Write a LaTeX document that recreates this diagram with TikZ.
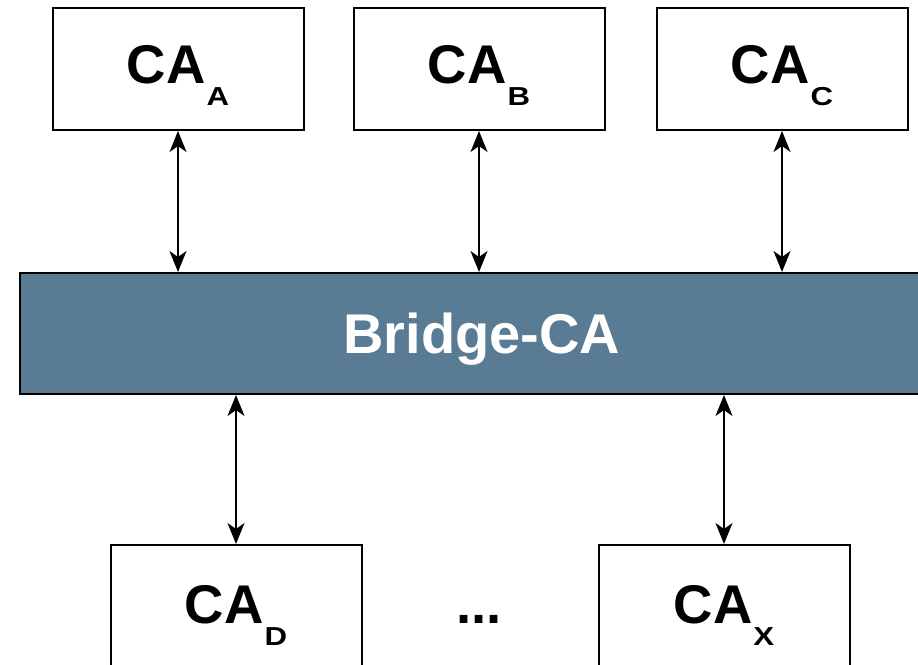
\documentclass[tikz,border=0pt]{standalone}
\usepackage{fontspec}
\setmainfont{Liberation Sans}
\definecolor{bridgeblue}{RGB}{90,123,148}
\usetikzlibrary{arrows.meta, positioning}

\newcommand{\caname}[1]{CA\hspace{1pt}\raisebox{-22pt}{\scalebox{1.2}[1]{\fontsize{26}{26}\selectfont #1}}}

\begin{document}
\begin{tikzpicture}[x=1pt, y=1pt,
  cabox/.style={draw=black, line width=2pt, fill=white, minimum width=251pt, minimum height=122pt, inner sep=0pt, text height=42pt, text depth=14pt, font=\fontsize{54.5}{60}\selectfont\bfseries},
  bridgebox/.style={draw=black, line width=2pt, fill=bridgeblue, minimum width=924pt, minimum height=121pt, inner sep=0pt, text height=45pt, text depth=6pt, text=white, font=\fontsize{56}{60}\selectfont\bfseries},
  link/.style={line width=2pt, {Stealth[length=21pt, width=17pt, inset=6pt]}-{Stealth[length=21pt, width=17pt, inset=6pt]}}]
  \useasboundingbox (0,0) rectangle (918,-664);

  \node[cabox] (ca-a) at (178,-69) {\caname{A}};
  \node[cabox] (ca-b) at (479,-69) {\caname{B}};
  \node[cabox] (ca-c) at (782,-69) {\caname{C}};

  \node[bridgebox] (bridge) at (482,-333.5) {Bridge-CA};

  \node[cabox, minimum height=128pt] (ca-d) at (236,-609) {\caname{D}};
  \node[cabox, minimum height=128pt] (ca-x) at (724,-609) {\caname{X}};
  \node[anchor=base, inner sep=0pt, font=\fontsize{54.5}{60}\selectfont\bfseries] (dots) at (479,-623) {...};

  \foreach \n in {ca-a, ca-b, ca-c}
    \draw[link] (\n.south) -- (\n.south |- bridge.north);
  \foreach \n in {ca-d, ca-x}
    \draw[link] (\n.north |- bridge.south) -- (\n.north);
\end{tikzpicture}
\end{document}
